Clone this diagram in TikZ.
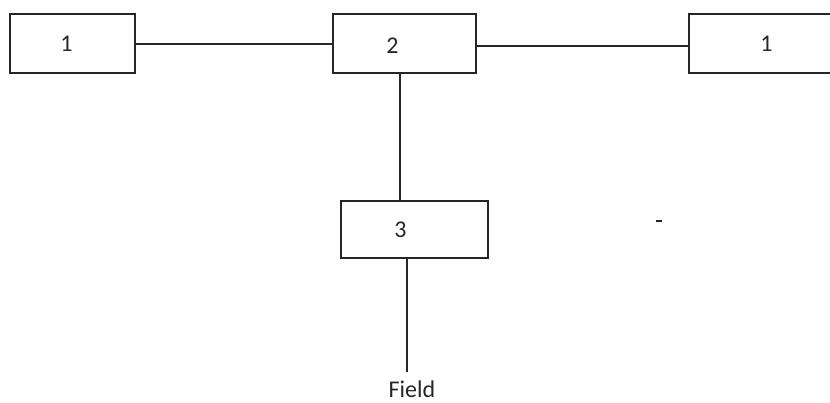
\documentclass[tikz,border=0pt]{standalone}
\usepackage{fontspec}
\setmainfont{Carlito}
\usetikzlibrary{positioning}

\tikzset{
	blk/.style={draw=black!85, line width=1.6pt, minimum width=125pt, minimum height=59pt, inner sep=0pt},
	lbl/.style={font=\fontsize{24}{26}\selectfont, text=black!85, inner sep=0pt},
	wire/.style={draw=black!85, line width=1.6pt}
}

\begin{document}
\begin{tikzpicture}[x=1pt,y=-1pt]

	\useasboundingbox (0,0) rectangle (830,403);

	% Kaesten
	\node[blk] (l1) at (72.5,43.5) {};
	\node[blk, minimum width=143pt] (b2) at (404.5,43.5) {};
	\node[blk, minimum width=143pt] (r1) at (760.5,43.5) {};
	\node[blk, minimum width=147pt, minimum height=57pt] (b3) at (414.5,229.5) {};

	% Beschriftung
	\node[lbl] (t1) at ([xshift=-6pt]l1.center) {1};
	\node[lbl] (t2) at ([xshift=-12pt,yshift=-2pt]b2.center) {2};
	\node[lbl] (t3) at ([xshift=-14pt]b3.center) {3};
	\node[lbl] (t4) at ([xshift=6pt]r1.center) {1};
	\node[lbl] (fld) at (412,389) {Field};

	% Verbindungen
	\draw[wire] ([yshift=-0.5pt]l1.east) -- ([yshift=-0.5pt]b2.west);
	\draw[wire] ([yshift=-2.5pt]b2.east) -- ([yshift=-2.5pt]r1.west);
	\draw[wire] ([xshift=-4.5pt]b2.south) -- ([xshift=-4.5pt]b2.south |- b3.north);
	\draw[wire] ([xshift=-7.5pt]b3.south) -- ++(0,113);

	% Strich
	\draw[line width=1.8pt, black!85] (656,221) -- (662,221);

\end{tikzpicture}
\end{document}
